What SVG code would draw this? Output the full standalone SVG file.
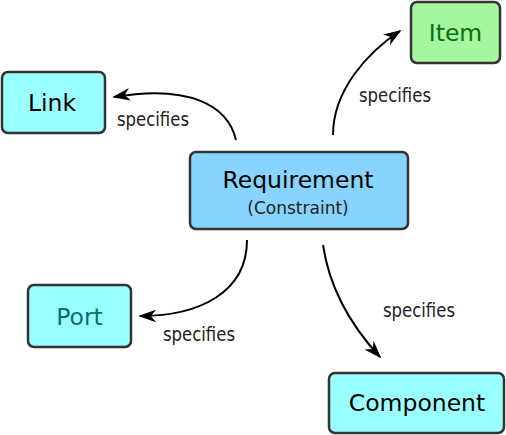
<svg xmlns="http://www.w3.org/2000/svg" width="506" height="435" viewBox="0 0 506 435">
<style>
.box{stroke:#333;stroke-width:2.5}
.t{font-family:"DejaVu Sans",Verdana,sans-serif;text-anchor:middle}
.big{font-size:23.5px}
.lbl{font-family:"DejaVu Sans Condensed","DejaVu Sans",sans-serif;font-size:19px;fill:#222}
.edge{fill:none;stroke:#000;stroke-width:2}
</style>
<defs>
<marker id="ah" viewBox="0 0 20 14" refX="18" refY="7" markerWidth="18" markerHeight="13" markerUnits="userSpaceOnUse" orient="auto">
<path d="M0,0 L20,7 L0,14 L6,7 Z" fill="#000"/>
</marker>
</defs>
<rect width="506" height="435" fill="#fff"/>
<g id="edges">
<path class="edge" d="M236,140 C228,106 190,84 114,97" marker-end="url(#ah)"/>
<path class="edge" d="M333,135 C333,90 368,52 400,31" marker-end="url(#ah)"/>
<path class="edge" d="M247,240 C247,292 200,316 140,316" marker-end="url(#ah)"/>
<path class="edge" d="M323,245 C330,292 355,330 380,357" marker-end="url(#ah)"/>
<text class="lbl" x="117" y="126" textLength="72" lengthAdjust="spacingAndGlyphs">specifies</text>
<text class="lbl" x="359" y="102" textLength="72" lengthAdjust="spacingAndGlyphs">specifies</text>
<text class="lbl" x="163" y="341" textLength="72" lengthAdjust="spacingAndGlyphs">specifies</text>
<text class="lbl" x="383" y="317" textLength="72" lengthAdjust="spacingAndGlyphs">specifies</text>
</g>
<g id="link">
<rect class="box" x="2" y="72" width="103" height="61" rx="6" fill="#99ffff"/>
<text class="t big" x="52" y="111" fill="#000">Link</text>
</g>
<g id="item">
<rect class="box" x="411" y="2" width="89" height="61" rx="6" fill="#a6f5a0"/>
<text class="t big" x="455.500" y="41" fill="#0a6e0a">Item</text>
</g>
<g id="requirement">
<rect class="box" x="190" y="152" width="218" height="77" rx="6" fill="#87d4ff"/>
<text class="t big" x="298" y="188" fill="#000">Requirement</text>
<text class="t" x="298" y="214" font-size="17" fill="#222">(Constraint)</text>
</g>
<g id="port">
<rect class="box" x="28" y="285" width="103" height="62" rx="6" fill="#99ffff"/>
<text class="t big" x="79.500" y="325" fill="#0a6e6e">Port</text>
</g>
<g id="component">
<rect class="box" x="329" y="373" width="175" height="60" rx="6" fill="#99ffff"/>
<text class="t big" x="417" y="411" fill="#000">Component</text>
</g>
</svg>
